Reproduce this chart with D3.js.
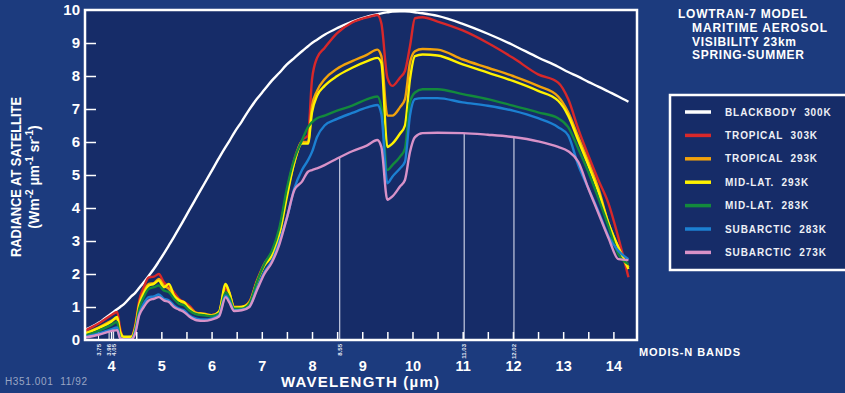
<!DOCTYPE html>
<html>
<head>
<meta charset="utf-8">
<script src="https://cdn.jsdelivr.net/npm/d3@7"></script>
<style>
  body { margin: 0; background: #1c3b7e; }
  svg { display: block; font-family: "Liberation Sans", Arial, Helvetica, sans-serif; font-weight: bold; }
</style>
</head>
<body>
<div id="chart"></div>
<script>
// wavelength grid (µm) shared by every curve
const wavelength = [3.5, 3.75, 4.0, 4.12, 4.18, 4.25, 4.4, 4.48, 4.56, 4.65, 4.75, 4.85, 4.95, 5.05, 5.15, 5.25,
  5.35, 5.45, 5.55, 5.7, 5.85, 6.0, 6.15, 6.28, 6.35, 6.45, 6.6, 6.75, 6.9, 7.05, 7.2, 7.35, 7.5, 7.65, 7.8,
  7.92, 8.0, 8.1, 8.25, 8.5, 8.8, 9.1, 9.3, 9.38, 9.5, 9.6, 9.75, 9.85, 9.95, 10.05, 10.2, 10.5, 11.0, 11.5,
  12.0, 12.5, 12.9, 13.1, 13.3, 13.5, 13.7, 13.9, 14.1, 14.3];

const blackbody300 = [0.32, 0.52, 0.8, 0.93, 1.0, 1.08, 1.32, 1.43, 1.58, 1.75, 1.95, 2.15, 2.38, 2.62, 2.87, 3.12,
  3.38, 3.65, 3.92, 4.32, 4.72, 5.12, 5.52, 5.85, 6.02, 6.28, 6.62, 6.98, 7.3, 7.58, 7.86, 8.1, 8.35, 8.55, 8.75,
  8.9, 9.0, 9.1, 9.25, 9.45, 9.65, 9.8, 9.87, 9.9, 9.93, 9.95, 9.96, 9.96, 9.95, 9.93, 9.9, 9.82, 9.58, 9.28,
  8.94, 8.56, 8.28, 8.12, 7.98, 7.82, 7.68, 7.53, 7.38, 7.22];

const tropical303 = [0.3, 0.5, 0.75, 0.85, 0.35, 0.08, 0.1, 0.45, 1.2, 1.6, 1.9, 1.92, 2.0, 1.75, 1.62, 1.45,
  1.25, 1.15, 1.05, 0.82, 0.78, 0.75, 0.85, 1.55, 1.4, 1.0, 1.0, 1.15, 1.8, 2.3, 2.6, 3.3, 4.5, 5.5, 6.05,
  6.2, 7.9, 8.55, 8.85, 9.3, 9.62, 9.78, 9.85, 9.6, 7.95, 7.7, 7.95, 8.15, 8.9, 9.75, 9.78, 9.65, 9.38, 9.0,
  8.55, 8.05, 7.8, 7.3, 6.4, 5.6, 4.85, 4.15, 3.1, 1.9];

const tropical293 = [0.22, 0.38, 0.58, 0.65, 0.2, 0.05, 0.08, 0.4, 1.1, 1.45, 1.7, 1.72, 1.85, 1.65, 1.55, 1.35,
  1.22, 1.1, 1.0, 0.82, 0.8, 0.75, 0.85, 1.65, 1.45, 1.0, 1.0, 1.15, 1.75, 2.3, 2.65, 3.3, 4.45, 5.4, 6.0,
  6.0, 7.1, 7.55, 7.9, 8.22, 8.45, 8.65, 8.8, 8.6, 6.8, 6.8, 7.05, 7.3, 8.4, 8.75, 8.82, 8.8, 8.5, 8.25,
  8.0, 7.7, 7.38, 6.9, 6.15, 5.4, 4.6, 3.55, 2.8, 2.2];

const midLat293 = [0.2, 0.36, 0.55, 0.7, 0.25, 0.1, 0.1, 0.35, 1.05, 1.4, 1.65, 1.7, 1.8, 1.6, 1.7, 1.35,
  1.2, 1.15, 0.95, 0.8, 0.78, 0.73, 0.85, 1.7, 1.45, 0.98, 1.0, 1.1, 1.75, 2.25, 2.55, 3.2, 4.35, 5.4, 5.95,
  5.95, 6.9, 7.4, 7.7, 8.0, 8.25, 8.45, 8.55, 8.4, 5.85, 5.95, 6.25, 6.5, 7.9, 8.6, 8.65, 8.62, 8.35, 8.1,
  7.85, 7.55, 7.25, 6.8, 6.05, 5.3, 4.5, 3.55, 2.8, 2.15];

const midLat283 = [0.15, 0.28, 0.45, 0.55, 0.05, 0.02, 0.02, 0.3, 0.95, 1.3, 1.55, 1.6, 1.65, 1.5, 1.45, 1.25,
  1.1, 1.05, 0.9, 0.78, 0.75, 0.72, 0.8, 1.45, 1.3, 0.95, 0.95, 1.1, 1.75, 2.3, 2.7, 3.4, 4.6, 5.5, 6.05,
  6.45, 6.6, 6.72, 6.8, 6.95, 7.1, 7.3, 7.38, 7.05, 5.15, 5.3, 5.55, 5.8, 7.2, 7.5, 7.6, 7.6, 7.45, 7.3,
  7.1, 6.9, 6.72, 6.45, 5.8, 5.1, 4.3, 3.45, 2.6, 2.3];

const subarctic283 = [0.1, 0.2, 0.32, 0.38, 0.05, 0.02, 0.02, 0.25, 0.8, 1.1, 1.3, 1.32, 1.38, 1.25, 1.2, 1.05,
  0.95, 0.9, 0.75, 0.65, 0.62, 0.65, 0.75, 1.35, 1.2, 0.9, 0.92, 1.0, 1.55, 2.05, 2.4, 3.0, 3.7, 4.6, 5.15,
  5.45, 5.7, 6.15, 6.5, 6.7, 6.88, 7.05, 7.12, 6.85, 4.75, 4.95, 5.2, 5.4, 6.8, 7.3, 7.33, 7.33, 7.2, 7.1,
  6.95, 6.72, 6.45, 6.2, 5.3, 4.6, 3.9, 3.15, 2.7, 2.45];

const subarctic273 = [0.08, 0.16, 0.27, 0.3, 0.05, 0.02, 0.02, 0.2, 0.75, 1.0, 1.2, 1.25, 1.3, 1.2, 1.15, 1.0,
  0.92, 0.85, 0.72, 0.6, 0.58, 0.62, 0.72, 1.3, 1.15, 0.88, 0.9, 1.0, 1.5, 2.0, 2.35, 2.9, 3.7, 4.55, 4.8,
  5.1, 5.15, 5.2, 5.3, 5.5, 5.72, 5.9, 6.06, 5.85, 4.25, 4.35, 4.65, 4.85, 5.7, 6.15, 6.27, 6.28, 6.27, 6.22,
  6.15, 6.02, 5.85, 5.72, 5.4, 4.6, 3.85, 3.1, 2.45, 2.42];

const seriesLabels = ["BLACKBODY  300K", "TROPICAL  303K", "TROPICAL  293K", "MID-LAT.  293K",
  "MID-LAT.  283K", "SUBARCTIC  283K", "SUBARCTIC  273K"];
const seriesColors = ["#ffffff", "#d8282a", "#f2a20c", "#fff200", "#138a3c", "#1c80d2", "#d892c8"];
const seriesValues = [blackbody300, tropical303, tropical293, midLat293, midLat283, subarctic283, subarctic273];

const xTicks = d3.range(4, 14.01, 0.5);
const yTicks = d3.range(0, 11, 1);
const modisBands = [3.75, 3.96, 4.05, 8.55, 11.03, 12.02];
const bandLabels = ["3.75", "3.96", "4.05", "8.55", "11.03", "12.02"];
const titleLines = ["LOWTRAN-7 MODEL", "MARITIME AEROSOL", "VISIBILITY 23km", "SPRING-SUMMER"];

const width = 845, height = 393;
const plot = { left: 85, right: 637, top: 10, bottom: 340 };
const outerBg = "#1c3b7e", innerBg = "#162c68";

const svg = d3.select("#chart").append("svg")
  .attr("width", width)
  .attr("height", height);

svg.append("rect").attr("width", width).attr("height", height).attr("fill", outerBg);

const x = d3.scaleLinear().domain([3.48, 14.47]).range([plot.left, plot.right]);
const y = d3.scaleLinear().domain([0, 10]).range([plot.bottom, plot.top]);

// plot background
svg.append("rect")
  .attr("x", plot.left).attr("y", plot.top)
  .attr("width", plot.right - plot.left).attr("height", plot.bottom - plot.top)
  .attr("fill", innerBg);

// band lines (vertical lines up to the subarctic 273K curve)
function interpAt(values, w) {
  const i = d3.bisectRight(wavelength, w) - 1;
  const t = (w - wavelength[i]) / (wavelength[i + 1] - wavelength[i]);
  return values[i] + t * (values[i + 1] - values[i]);
}

svg.append("g").selectAll("line")
  .data(modisBands)
  .join("line")
  .attr("x1", d => x(d)).attr("x2", d => x(d))
  .attr("y1", plot.bottom)
  .attr("y2", d => d > 5 ? y(interpAt(subarctic273, d)) : plot.bottom - 9)
  .attr("stroke", d => d > 5 ? "#b8bfd8" : "#ffffff")
  .attr("stroke-width", d => d > 5 ? 1.3 : 1);

// curves
const line = d3.line()
  .x((d, i) => x(wavelength[i]))
  .y(d => y(d))
  .curve(d3.curveMonotoneX);

svg.append("g").selectAll("path")
  .data(seriesValues)
  .join("path")
  .attr("d", d => line(d))
  .attr("fill", "none")
  .attr("stroke", (d, i) => seriesColors[i])
  .attr("stroke-width", 2.4)
  .attr("stroke-linejoin", "round");

// axes
const yAxis = svg.append("g")
  .attr("transform", `translate(${plot.left},0)`)
  .call(d3.axisLeft(y).tickValues(yTicks).tickSize(-11).tickPadding(5));
yAxis.select(".domain").remove();
yAxis.selectAll(".tick line").attr("stroke", "#fff").attr("stroke-width", 1.5)
  .attr("opacity", d => d === 0 || d === 10 ? 0 : 1);
yAxis.selectAll(".tick text")
  .attr("fill", "#fff").style("font-size", "15px").style("font-weight", "bold");

const xAxis = svg.append("g")
  .attr("transform", `translate(0,${plot.bottom})`)
  .call(d3.axisBottom(x).tickValues(xTicks).tickSize(-8).tickPadding(21)
    .tickFormat(d => Number.isInteger(d) ? d : ""));
xAxis.select(".domain").remove();
xAxis.selectAll(".tick line").attr("stroke", "#fff").attr("stroke-width", 1.5);
xAxis.selectAll(".tick text")
  .attr("fill", "#fff").style("font-size", "14.5px").style("font-weight", "bold");

// frame
svg.append("rect")
  .attr("x", plot.left).attr("y", plot.top)
  .attr("width", plot.right - plot.left).attr("height", plot.bottom - plot.top)
  .attr("fill", "none").attr("stroke", "#fff").attr("stroke-width", 2.5);

// band labels (small rotated)
svg.append("g").selectAll("text")
  .data(modisBands)
  .join("text")
  .attr("transform", d => `translate(${x(d) + 2},${plot.bottom + 4}) rotate(-90)`)
  .attr("text-anchor", "end")
  .attr("fill", "#e8ecf6")
  .style("font-size", "6px")
  .text((d, i) => bandLabels[i]);

svg.append("text")
  .attr("x", 639).attr("y", 356)
  .attr("fill", "#fff").style("font-size", "11px")
  .attr("textLength", 101)
  .text("MODIS-N BANDS");

// axis titles
svg.append("text")
  .attr("x", 360).attr("y", 387)
  .attr("text-anchor", "middle")
  .attr("fill", "#fff").style("font-size", "15px")
  .attr("textLength", 158)
  .text("WAVELENGTH (\u00b5m)");

svg.append("text")
  .attr("transform", "translate(21,177) rotate(-90)")
  .attr("text-anchor", "middle")
  .attr("fill", "#fff").style("font-size", "14px")
  .attr("textLength", 160).attr("lengthAdjust", "spacingAndGlyphs")
  .text("RADIANCE AT SATELLITE");

const unit = svg.append("text")
  .attr("transform", "translate(39,177) rotate(-90)")
  .attr("text-anchor", "middle")
  .attr("fill", "#fff").style("font-size", "14px");
unit.append("tspan").text("(Wm");
unit.append("tspan").attr("dy", -6).style("font-size", "10px").text("-2");
unit.append("tspan").attr("dy", 6).text(" \u00b5m");
unit.append("tspan").attr("dy", -6).style("font-size", "10px").text("-1");
unit.append("tspan").attr("dy", 6).text(" sr");
unit.append("tspan").attr("dy", -6).style("font-size", "10px").text("-1");
unit.append("tspan").attr("dy", 6).text(")");

svg.append("text")
  .attr("x", 5).attr("y", 385)
  .attr("fill", "#9aa6c4").style("font-size", "10px").style("font-weight", "normal")
  .style("white-space", "pre")
  .attr("textLength", 82)
  .text("H351.001  11/92");

// title block
const titleWidths = [129, 135, 104, 112];
svg.append("g").selectAll("text")
  .data(titleLines)
  .join("text")
  .attr("x", (d, i) => i === 0 ? 678 : 692)
  .attr("y", (d, i) => [18, 32, 46, 59][i])
  .attr("fill", "#fff").style("font-size", "12px")
  .attr("textLength", (d, i) => titleWidths[i])
  .text(d => d);

// legend
const legend = svg.append("g");
legend.append("rect")
  .attr("x", 670).attr("y", 95).attr("width", 190).attr("height", 175)
  .attr("fill", innerBg).attr("stroke", "#fff").attr("stroke-width", 2.5);

const rows = legend.selectAll("g.row")
  .data(seriesLabels)
  .join("g")
  .attr("class", "row")
  .attr("transform", (d, i) => `translate(0,${112 + i * 23.4})`);
rows.append("line")
  .attr("x1", 685).attr("x2", 711)
  .attr("stroke", (d, i) => seriesColors[i]).attr("stroke-width", 3.5);
rows.append("text")
  .attr("x", 725).attr("dy", "0.35em")
  .attr("fill", "#eef0f6").style("font-size", "10px")
  .style("letter-spacing", "0.9px")
  .style("white-space", "pre")
  .text(d => d);
</script>
</body>
</html>
